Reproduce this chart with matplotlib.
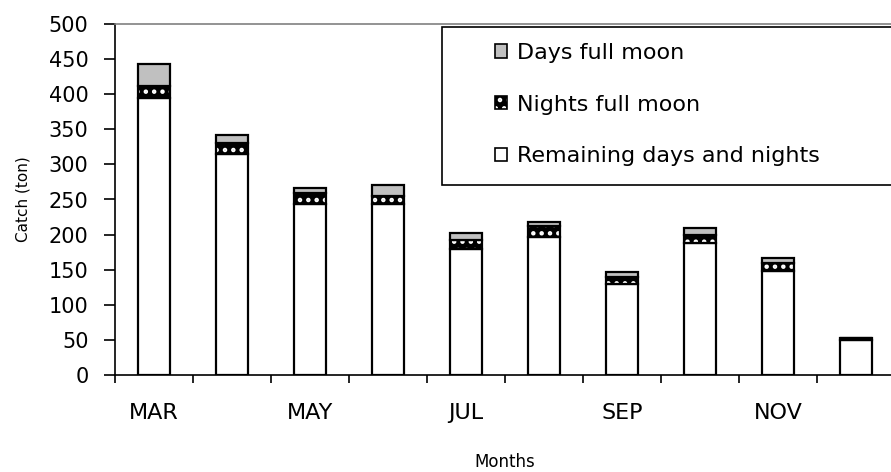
import matplotlib
matplotlib.use("Agg")
import matplotlib.pyplot as plt
from matplotlib.patches import Patch, Rectangle
from matplotlib.legend_handler import HandlerTuple
import numpy as np

plt.rcParams['font.family'] = ['DejaVu Sans']
plt.rcParams['hatch.linewidth'] = 2.0

months = ["MAR", "APR", "MAY", "JUN", "JUL", "AUG", "SEP", "OCT", "NOV", "DEC"]
remaining = [395, 315, 243, 244, 179, 197, 130, 188, 148, 50]
nights_full_moon = [17, 16, 16, 11, 14, 15, 10, 12, 11, 2]
days_full_moon = [31, 11, 8, 15, 9, 6, 7, 9, 7, 1]
yticks = list(range(0, 501, 50))

fig = plt.figure(figsize=(8.91, 4.72), dpi=100)
ax = fig.add_axes([115 / 891, 1 - 375 / 472, 780 / 891, 351 / 472])

x = np.arange(len(months))
width = 0.42
rem = np.array(remaining)
nig = np.array(nights_full_moon)
day = np.array(days_full_moon)

edge = dict(edgecolor="black", linewidth=1.6)
ax.bar(x, rem, width, color="white", **edge)
# night segment: black fill with a white dotted pattern, outlined separately
ax.bar(x, nig, width, bottom=rem, color="black", edgecolor="white",
       hatch="..", linewidth=0)
ax.bar(x, nig, width, bottom=rem, fill=False, **edge)
ax.bar(x, day, width, bottom=rem + nig, color="#c0c0c0", **edge)

ax.set_ylim(0, 500)
ax.set_xlim(-0.5, len(months) - 0.5)
ax.set_yticks(yticks)
ax.tick_params(axis="y", direction="out", length=8, width=1.2, labelsize=15, pad=11)

# category boundaries carry the tick marks; every other month is labelled
ax.set_xticks(np.arange(-0.5, len(months), 1.0))
ax.set_xticklabels([])
ax.tick_params(axis="x", which="major", direction="out", length=6, width=1.2)
ax.set_xticks(x[::2], minor=True)
ax.set_xticklabels(months[::2], minor=True)
ax.tick_params(axis="x", which="minor", length=0, labelsize=16, pad=20)

ax.spines["left"].set_linewidth(1.2)
ax.spines["bottom"].set_linewidth(1.2)
ax.spines["top"].set_color("#808080")
ax.spines["top"].set_linewidth(1.2)
ax.spines["right"].set_visible(False)

ax.set_ylabel("Catch (ton)", fontsize=11, labelpad=13)
ax.set_xlabel("Months", fontsize=12, labelpad=22)

# legend frame runs off the right edge of the figure
fig.patches.append(Rectangle((442 / 891, 1 - 185 / 472), 470 / 891, 158 / 472,
                             transform=fig.transFigure, facecolor="white",
                             edgecolor="black", linewidth=1.2, zorder=5))
night_fill = Patch(facecolor="black", edgecolor="white", hatch="..", linewidth=0)
night_edge = Patch(fill=False, edgecolor="black", linewidth=1.2)
handles = [
    Patch(facecolor="#c0c0c0", edgecolor="black", linewidth=1.2),
    (night_fill, night_edge),
    Patch(facecolor="white", edgecolor="black", linewidth=1.2),
]
labels = ["Days full moon", "Nights full moon", "Remaining days and nights"]
leg = fig.legend(handles, labels, loc="upper left",
                 bbox_to_anchor=(495 / 891, 1 - 43 / 472),
                 handler_map={tuple: HandlerTuple(ndivide=1, pad=0)},
                 fontsize=16, handlelength=0.55, handleheight=0.55,
                 handletextpad=0.45, labelspacing=1.42, borderpad=0,
                 borderaxespad=0, frameon=False)
leg.set_zorder(6)

fig.savefig("out.png", dpi=100)
